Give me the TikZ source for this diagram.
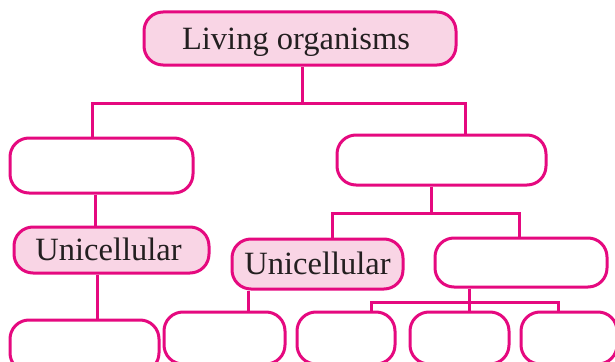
\documentclass[tikz,border=0pt]{standalone}
\usepackage{fontspec}
\setmainfont{Liberation Serif}
\definecolor{pinkline}{HTML}{E5097F}
\definecolor{pinkfill}{HTML}{F9D5E5}
\definecolor{txt}{HTML}{231F20}
\begin{document}
\begin{tikzpicture}[x=1pt,y=-1pt,
  box/.style={draw=pinkline,line width=3pt,rounded corners=19pt,fill=white,inner sep=0pt,
    text=txt,font=\fontsize{32.5}{38}\selectfont,text height=21.5pt,text depth=0pt},
  filled/.style={box,fill=pinkfill},
  conn/.style={draw=pinkline,line width=3pt}]
\clip (0,0) rectangle (615,361);
\useasboundingbox (0,0) rectangle (615,361);
\node[filled,minimum width=312pt,minimum height=53pt] (top) at (300,38.5) {Living organisms\hspace*{8pt}};
\node[box,minimum width=183pt,minimum height=55pt] (b1) at (101.5,165.5) {};
\node[box,minimum width=209pt,minimum height=50pt] (b2) at (441.5,160) {};
\node[filled,minimum width=195pt,minimum height=46pt] (u1) at (111.5,250) {Unicellular\hspace*{6pt}};
\node[filled,minimum width=171pt,minimum height=50pt] (u2) at (317.5,264) {Unicellular};
\node[box,minimum width=172pt,minimum height=49pt] (r3) at (521,262.5) {};
\node[box,minimum width=149pt,minimum height=52pt] (c1) at (84.5,346) {};
\node[box,minimum width=121pt,minimum height=52pt] (c2) at (224.5,338) {};
\node[box,minimum width=98pt,minimum height=52pt] (c3) at (346,338) {};
\node[box,minimum width=99pt,minimum height=52pt] (c4) at (459.5,338) {};
\node[box,minimum width=96pt,minimum height=52pt] (c5) at (569,338) {};
\coordinate (j1) at (302,103);
\coordinate (l1) at (92,103);
\coordinate (r1) at (465,103);
\coordinate (j2) at (431,213);
\coordinate (l2) at (332,213);
\coordinate (r2) at (519,213);
\coordinate (j3) at (469,302);
\coordinate (l3) at (371,302);
\coordinate (r3c) at (558,302);
\draw[conn] (top.south -| j1) -- (j1);
\draw[conn] (b1.north -| l1) -- (l1) -- (r1) -- (b2.north -| r1);
\draw[conn] (b1.south -| 95,0) -- (u1.north -| 95,0);
\draw[conn] (u1.south -| 97,0) -- (c1.north -| 97,0);
\draw[conn] (b2.south -| j2) -- (j2);
\draw[conn] (u2.north -| l2) -- (l2) -- (r2) -- (r3.north -| r2);
\draw[conn] (u2.south -| 248,0) -- (c2.north -| 248,0);
\draw[conn] (r3.south -| j3) -- (j3);
\draw[conn] (c3.north -| l3) -- (l3) -- (r3c) -- (c5.north -| r3c);
\draw[conn] (j3) -- (c4.north -| j3);
\end{tikzpicture}
\end{document}
